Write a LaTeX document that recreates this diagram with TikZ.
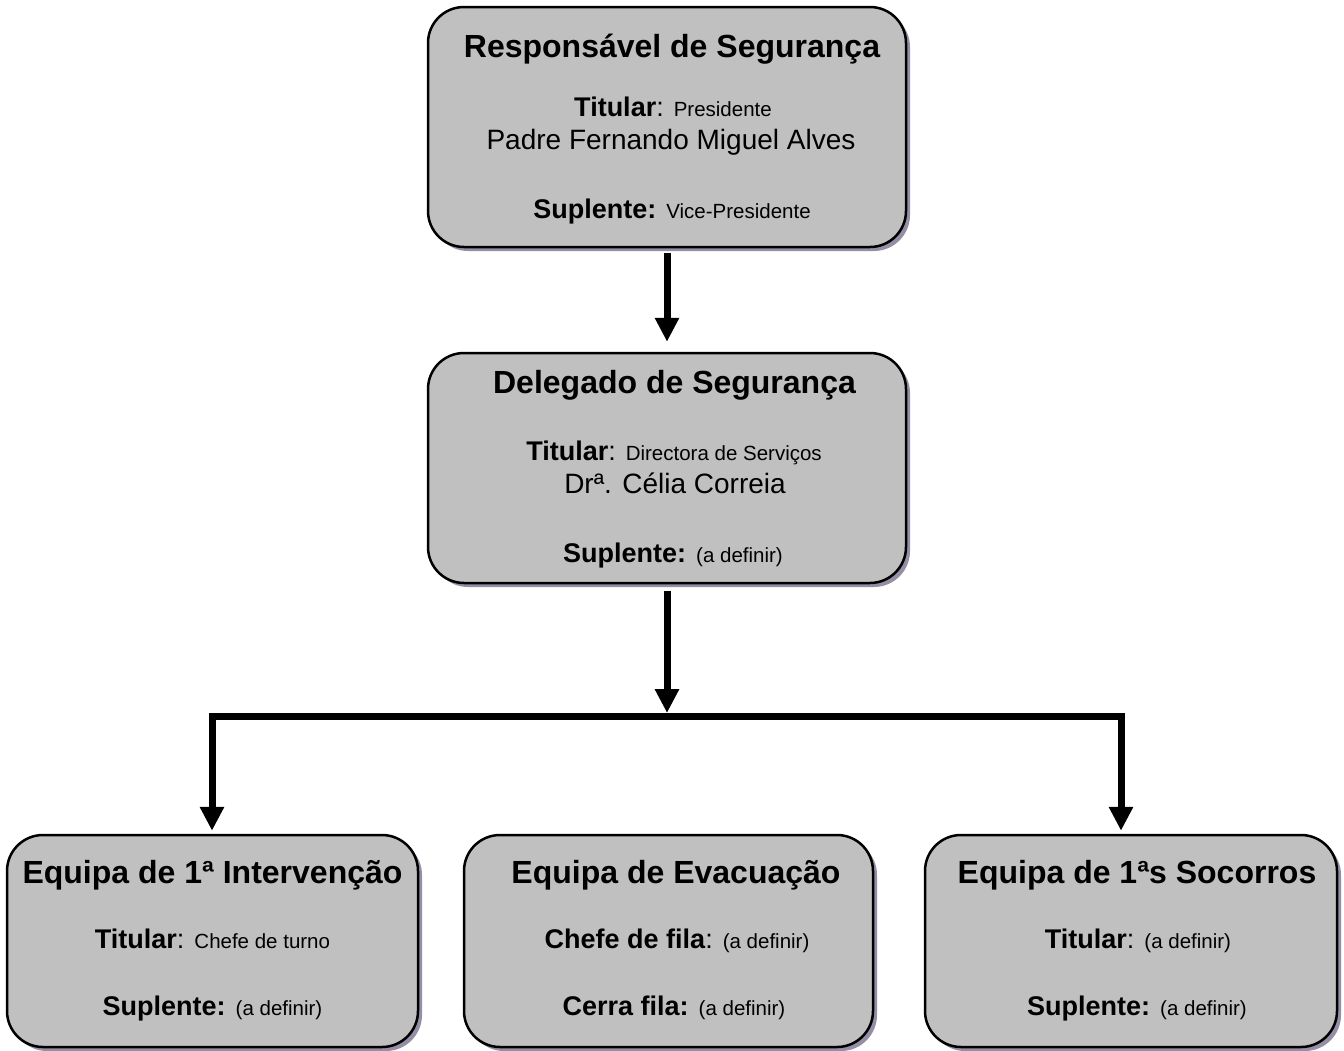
\documentclass[tikz,border=0pt]{standalone}
\usepackage{fontspec}
\setmainfont{Liberation Sans}
\usetikzlibrary{arrows.meta,shadows}
\definecolor{boxgray}{RGB}{192,192,192}
\definecolor{shadowcol}{RGB}{150,142,166}
\newcommand{\fsTitle}{\fontsize{32}{38}\selectfont\bfseries}
\newcommand{\fsLabel}{\fontsize{27}{32}\selectfont}
\newcommand{\fsSmall}{\fontsize{20.5}{24}\selectfont}
\newcommand{\fsName}{\fontsize{28}{33}\selectfont}
\begin{document}
\begin{tikzpicture}[x=1pt,y=-1pt,
  box/.style={draw=black, line width=2.5pt, fill=boxgray, rounded corners=36pt,
    drop shadow={shadow xshift=4pt, shadow yshift=-4pt, fill=shadowcol, opacity=1},
    inner sep=0pt},
  txt/.style={anchor=base, inner sep=0pt},
  conn/.style={line width=7pt, -{Triangle[length=24pt,width=23pt]}},
  barline/.style={line width=7pt, line cap=rect}]
\fill[white] (0,0) rectangle (1344,1050);
\useasboundingbox (0,0) rectangle (1344,1050);

% boxes
\node[box, minimum width=478pt, minimum height=240pt] (resp) at (667,127) {};
\node[box, minimum width=478pt, minimum height=230pt] (deleg) at (667,468) {};
\node[box, minimum width=411pt, minimum height=212pt] (eq1) at (212.5,941) {};
\node[box, minimum width=409pt, minimum height=212pt] (eq2) at (668.5,941) {};
\node[box, minimum width=412pt, minimum height=212pt] (eq3) at (1131,941) {};

% texts: top box
\node[txt] (respT) at (672,57) {\fsTitle Responsável de Segurança};
\node[txt] (respA) at (673,116) {\fsLabel\textbf{Titular}: \fsSmall Presidente};
\node[txt] (respB) at (671,149) {\fsName Padre Fernando Miguel Alves};
\node[txt] (respC) at (672,218) {\fsLabel\textbf{Suplente:} \fsSmall Vice-Presidente};

% texts: middle box
\node[txt] (delT) at (674.5,393) {\fsTitle Delegado de Segurança};
\node[txt] (delA) at (674,460) {\fsLabel\textbf{Titular}: \fsSmall Directora de Serviços};
\node[txt] (delB) at (675,493) {\fsName Drª. Célia Correia};
\node[txt] (delC) at (673,562) {\fsLabel\textbf{Suplente:} \fsSmall (a definir)};

% texts: bottom boxes
\node[txt] (e1T) at (212.5,883) {\fsTitle Equipa de 1ª Intervenção};
\node[txt] (e1A) at (212.5,948) {\fsLabel\textbf{Titular}: \fsSmall Chefe de turno};
\node[txt] (e1B) at (212.5,1015) {\fsLabel\textbf{Suplente:} \fsSmall (a definir)};

\node[txt] (e2T) at (676,883) {\fsTitle Equipa de Evacuação};
\node[txt] (e2A) at (677,948) {\fsLabel\textbf{Chefe de fila}: \fsSmall (a definir)};
\node[txt] (e2B) at (674,1015) {\fsLabel\textbf{Cerra fila:} \fsSmall (a definir)};

\node[txt] (e3T) at (1137,883) {\fsTitle Equipa de 1ªs Socorros};
\node[txt] (e3A) at (1138,948) {\fsLabel\textbf{Titular}: \fsSmall (a definir)};
\node[txt] (e3B) at (1137,1015) {\fsLabel\textbf{Suplente:} \fsSmall (a definir)};

% connectors
\coordinate (jn) at (667,716.5);
\coordinate (jl) at (212,716.5);
\coordinate (jr) at (1121,716.5);
\draw[conn, shorten <=5pt, shorten >=10pt] (resp.south) -- (deleg.north);
\draw[conn, shorten <=7pt, shorten >=3.5pt] (deleg.south) -- (jn);
\draw[barline] (jl) -- (jr);
\draw[conn, shorten >=3pt] (jl) -- (jl |- eq1.north);
\draw[conn, shorten >=3pt] (jr) -- (jr |- eq3.north);
\end{tikzpicture}
\end{document}
